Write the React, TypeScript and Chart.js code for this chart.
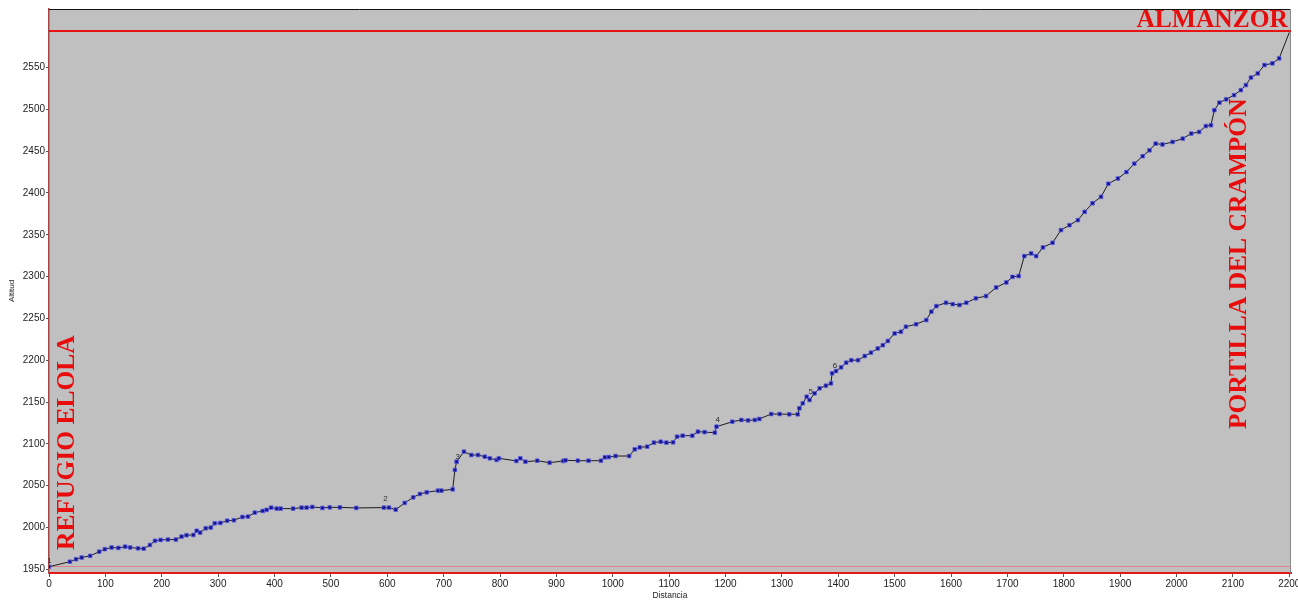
import React, { useEffect, useRef } from 'react';
import { Chart, registerables } from 'chart.js';

Chart.register(...registerables);

// Distance along the route (m)
const distances = [
  0, 37, 48, 58, 73, 89, 99, 111, 123, 135, 144, 158, 168, 179, 188, 198, 211, 225, 235, 244,
  256, 262, 268, 278, 287, 294, 304, 316, 328, 343, 353, 365, 379, 386, 394, 404, 411, 433, 448, 457,
  467, 485, 498, 516, 545, 594, 603, 615, 631, 646, 658, 670, 690, 696, 716, 720, 723, 736, 749, 761,
  773, 782, 794, 798, 829, 836, 845, 866, 888, 912, 916, 938, 957, 979, 986, 993, 1005, 1029, 1039, 1048,
  1061, 1073, 1085, 1095, 1107, 1114, 1124, 1141, 1151, 1163, 1181, 1184, 1212, 1228, 1240, 1252, 1260, 1281, 1296, 1313,
  1328, 1331, 1337, 1344, 1349, 1358, 1367, 1378, 1387, 1389, 1396, 1405, 1414, 1423, 1435, 1447, 1458, 1470, 1479, 1488,
  1500, 1511, 1520, 1538, 1556, 1565, 1574, 1591, 1603, 1615, 1627, 1644, 1662, 1680, 1698, 1709, 1720, 1730, 1742, 1751,
  1763, 1780, 1795, 1810, 1825, 1837, 1851, 1866, 1879, 1896, 1911, 1925, 1940, 1952, 1963, 1975, 1993, 2011, 2026, 2040,
  2052, 2061, 2067, 2076, 2088, 2102, 2114, 2123, 2132, 2144, 2156, 2170, 2182, 2200,
];

// Altitude (m)
const altitudes = [
  1953, 1959, 1962, 1964, 1966, 1971, 1974, 1976, 1975.5, 1977, 1976, 1975, 1974.6, 1979, 1984, 1985, 1985.5, 1985.5, 1989, 1990.7,
  1991, 1996, 1993.8, 1999, 1999.8, 2005, 2005.4, 2008, 2008.6, 2012.5, 2013, 2017.7, 2019.7, 2021, 2023.7, 2022.5, 2022.5, 2022.5, 2023.7, 2023.7,
  2024.5, 2023.3, 2024, 2024, 2023.3, 2023.7, 2023.7, 2021.3, 2029.3, 2036, 2040, 2042, 2044, 2044, 2045.6, 2068.7, 2078.6, 2090.6, 2086.6, 2086.6,
  2084.6, 2082.7, 2080.7, 2082.7, 2079.5, 2082.7, 2078.6, 2079.8, 2077.4, 2079.5, 2080.3, 2079.8, 2079.8, 2079.8, 2083.9, 2084.2, 2085.4, 2085.4, 2093.4, 2095.8,
  2096.6, 2101.4, 2102.5, 2101.4, 2101.8, 2108.5, 2109.7, 2109.7, 2114.5, 2114, 2113.3, 2120.5, 2126.4, 2128.5, 2128, 2128.5, 2129.7, 2135.6, 2135.6, 2135.3,
  2135.3, 2142.5, 2148.5, 2156.3, 2152.4, 2160.4, 2166.4, 2169.5, 2172.3, 2184.3, 2187, 2191.5, 2197, 2200, 2200, 2205, 2209, 2214, 2218, 2223,
  2232, 2234, 2240, 2243, 2248, 2258, 2264.7, 2268.7, 2267, 2266, 2268.7, 2274, 2276.7, 2287, 2293, 2299.7, 2300.6, 2324.5, 2327.7, 2324.5,
  2334.9, 2340.4, 2355.6, 2361.5, 2367.5, 2377.4, 2387.7, 2395.4, 2411, 2417.3, 2425, 2435, 2444, 2451, 2459, 2458, 2461, 2465, 2471, 2473,
  2480, 2481, 2499, 2508, 2512, 2517, 2523, 2529, 2538, 2543, 2553, 2555, 2561, 2592,
];

const xTickValues = [0, 100, 200, 300, 400, 500, 600, 700, 800, 900, 1000, 1100, 1200, 1300, 1400, 1500, 1600, 1700, 1800, 1900, 2000, 2100, 2200];
const yTickValues = [1950, 2000, 2050, 2100, 2150, 2200, 2250, 2300, 2350, 2400, 2450, 2500, 2550];

const waypointNames = ['1', '2', '3', '4', '5', '6'];
const waypointDist = [1, 597, 725, 1186, 1351, 1394];
const waypointAlt = [1960, 2034, 2084, 2128.7, 2162, 2193.6];

const summitAltitude = 2594;
const startAltitude = 1954;
const startName = 'REFUGIO ELOLA';
const passName = 'PORTILLA DEL CRAMPÓN';
const summitName = 'ALMANZOR';

const RED = 'rgb(232,12,12)';
const SERIF = '"Liberation Serif", "Times New Roman", serif';
const SANS = '"Liberation Sans", Arial, sans-serif';

const decorPlugin = {
  id: 'decor',
  beforeDraw(chart: any) {
    const { ctx, chartArea } = chart;
    ctx.save();
    ctx.fillStyle = '#c0c0c0';
    ctx.fillRect(chartArea.left, chartArea.top, chartArea.right - chartArea.left, chartArea.bottom - chartArea.top);
    ctx.restore();
  },
  beforeDatasetsDraw(chart: any) {
    const { ctx, chartArea, scales } = chart;
    const y = scales.y;
    ctx.save();
    ctx.lineWidth = 1;
    // top frame line
    ctx.strokeStyle = '#111';
    ctx.beginPath();
    ctx.moveTo(chartArea.left, Math.round(chartArea.top) + 0.5);
    ctx.lineTo(chartArea.right, Math.round(chartArea.top) + 0.5);
    ctx.stroke();
    // right frame line
    ctx.strokeStyle = '#8a8a8a';
    ctx.beginPath();
    ctx.moveTo(Math.round(chartArea.right) - 0.5, chartArea.top);
    ctx.lineTo(Math.round(chartArea.right) - 0.5, chartArea.bottom);
    ctx.stroke();
    // summit altitude line
    const ys = Math.round(y.getPixelForValue(summitAltitude));
    ctx.strokeStyle = 'rgb(230,20,20)';
    ctx.lineWidth = 2;
    ctx.beginPath();
    ctx.moveTo(chartArea.left, ys);
    ctx.lineTo(chartArea.right, ys);
    ctx.stroke();
    ctx.lineWidth = 1;
    // start altitude line
    const yb = Math.round(y.getPixelForValue(startAltitude)) + 0.5;
    ctx.strokeStyle = 'rgba(225,120,120,0.85)';
    ctx.beginPath();
    ctx.moveTo(chartArea.left, yb);
    ctx.lineTo(chartArea.right, yb);
    ctx.stroke();
    ctx.restore();
  },
  afterDatasetsDraw(chart: any) {
    const { ctx, scales } = chart;
    const x = scales.x;
    const y = scales.y;
    ctx.save();
    // waypoint numbers
    ctx.fillStyle = '#2a2a2a';
    ctx.font = `8px ${SANS}`;
    ctx.textAlign = 'center';
    ctx.textBaseline = 'middle';
    waypointNames.forEach((n, i) => {
      ctx.fillText(n, x.getPixelForValue(waypointDist[i]), y.getPixelForValue(waypointAlt[i]));
    });
    // place names
    ctx.fillStyle = RED;
    ctx.font = `bold 25.5px ${SERIF}`;
    ctx.textBaseline = 'alphabetic';
    ctx.textAlign = 'right';
    ctx.fillText(summitName, 1288, 27);

    ctx.textAlign = 'left';
    ctx.save();
    ctx.translate(74, 550);
    ctx.rotate(-Math.PI / 2);
    ctx.fillText(startName, 0, 0);
    ctx.restore();

    ctx.save();
    ctx.translate(1246, 429);
    ctx.rotate(-Math.PI / 2);
    ctx.fillText(passName, 0, 0);
    ctx.restore();
    ctx.restore();
  },
};

export default function App() {
  const canvasRef = useRef<HTMLCanvasElement | null>(null);

  useEffect(() => {
    const canvas = canvasRef.current;
    if (!canvas) return;
    const lastIndex = distances.length - 1;
    const chart = new Chart(canvas, {
      type: 'line',
      data: {
        datasets: [
          {
            label: 'Altitud',
            data: distances.map((d, i) => ({ x: d, y: altitudes[i] })),
            borderColor: '#1c1c1c',
            borderWidth: 1,
            tension: 0,
            pointStyle: 'rect',
            pointRadius: (c: any) => (c.dataIndex === lastIndex ? 0 : 2.6),
            pointBackgroundColor: '#14148c',
            pointBorderColor: 'rgba(95,95,235,0.75)',
            pointBorderWidth: 1,
            fill: false,
          },
        ],
      },
      options: {
        responsive: false,
        animation: false,
        devicePixelRatio: 1,
        layout: { padding: { left: 0, top: 9, right: 7, bottom: 0 } },
        plugins: {
          legend: { display: false },
          tooltip: { enabled: false },
        },
        scales: {
          x: {
            type: 'linear',
            min: 0,
            max: 2203,
            afterBuildTicks: (s: any) => {
              s.ticks = xTickValues.map((v) => ({ value: v }));
            },
            afterFit: (s: any) => {
              s.height = 28;
              s.paddingLeft = 0;
              s.paddingRight = 0;
            },
            grid: { drawOnChartArea: false, drawTicks: true, tickLength: 4, color: '#555', tickColor: '#555' },
            border: { display: true, color: 'rgb(225,25,25)', width: 2 },
            ticks: {
              font: { family: SANS, size: 10 },
              color: '#222',
              padding: 1,
              maxRotation: 0,
              autoSkip: false,
              callback: (v: any) => String(v),
            },
            title: {
              display: true,
              text: 'Distancia',
              font: { family: SANS, size: 8.5 },
              color: '#222',
              padding: { top: 0, bottom: 0 },
            },
          },
          y: {
            type: 'linear',
            min: 1945.5,
            max: 2620,
            afterBuildTicks: (s: any) => {
              s.ticks = yTickValues.map((v) => ({ value: v }));
            },
            afterFit: (s: any) => {
              s.width = 49;
              s.paddingTop = 0;
              s.paddingBottom = 0;
            },
            grid: { drawOnChartArea: false, drawTicks: true, tickLength: 3, color: '#555', tickColor: '#555' },
            border: { display: true, color: 'rgb(165,70,70)', width: 1.5 },
            ticks: {
              font: { family: SANS, size: 10 },
              color: '#222',
              padding: 1,
              autoSkip: false,
              callback: (v: any) => String(v),
            },
            title: {
              display: true,
              text: 'Altitud',
              font: { family: SANS, size: 8 },
              color: '#222',
              padding: { top: 7, bottom: 0 },
            },
          },
        },
      },
      plugins: [decorPlugin],
    });
    return () => chart.destroy();
  }, []);

  return (
    <div style={{ position: 'fixed', left: 0, top: 0, width: 1298, height: 601, background: '#fff' }}>
      <canvas ref={canvasRef} width={1298} height={601} style={{ display: 'block' }} />
    </div>
  );
}
